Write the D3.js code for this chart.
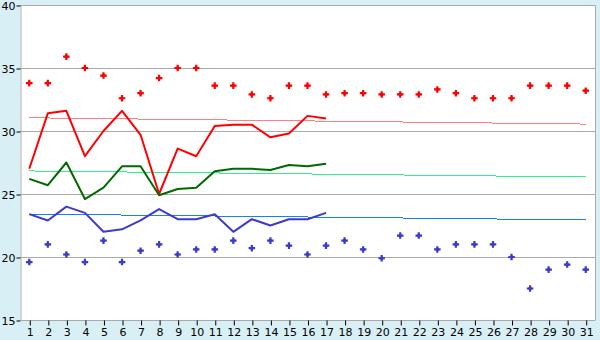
<!DOCTYPE html>
<html>
<head>
<meta charset="utf-8">
<script src="https://cdn.jsdelivr.net/npm/d3@7"></script>
<style>
  html, body { margin: 0; padding: 0; background: #d9eff6; }
  svg { display: block; }
  text { font-family: "DejaVu Sans", Verdana, sans-serif; font-size: 11px; fill: #000; }
</style>
</head>
<body>
<div id="chart"></div>
<script>
const days = d3.range(1, 32);
const yTicks = [15, 20, 25, 30, 35, 40];

// daily series (days 1..17)
const redLine = [27.0, 31.4, 31.6, 28.0, 30.0, 31.6, 29.7, 25.0, 28.6, 28.0, 30.4, 30.5, 30.5, 29.5, 29.8, 31.2, 31.0];
const greenLine = [26.2, 25.7, 27.5, 24.6, 25.5, 27.2, 27.2, 24.9, 25.4, 25.5, 26.8, 27.0, 27.0, 26.9, 27.3, 27.2, 27.4];
const blueLine = [23.4, 22.9, 24.0, 23.5, 22.0, 22.2, 22.9, 23.8, 23.0, 23.0, 23.4, 22.0, 23.0, 22.5, 23.0, 23.0, 23.5];

// point markers (days 1..31)
const redDots = [33.8, 33.8, 35.9, 35.0, 34.4, 32.6, 33.0, 34.2, 35.0, 35.0, 33.6, 33.6, 32.9, 32.6, 33.6, 33.6, 32.9, 33.0, 33.0, 32.9, 32.9, 32.9, 33.3, 33.0, 32.6, 32.6, 32.6, 33.6, 33.6, 33.6, 33.2];
const blueDots = [19.6, 21.0, 20.2, 19.6, 21.3, 19.6, 20.5, 21.0, 20.2, 20.6, 20.6, 21.3, 20.7, 21.3, 20.9, 20.2, 20.9, 21.3, 20.6, 19.9, 21.7, 21.7, 20.6, 21.0, 21.0, 21.0, 20.0, 17.5, 19.0, 19.4, 19.0];

// trend lines: values at day 1 and day 31
const trendDays = [1, 31];
const redTrend = [31.05, 30.55];
const greenTrend = [26.83, 26.35];
const blueTrend = [23.41, 22.94];

const W = 600, H = 340;
const margin = { top: 5, right: 5, bottom: 20, left: 20 };

const svg = d3.select("#chart").append("svg")
  .attr("width", W)
  .attr("height", H);

const x = d3.scalePoint()
  .domain(days)
  .range([margin.left, W - margin.right])
  .padding(0.5);

const y = d3.scaleLinear()
  .domain([15, 40])
  .range([H - margin.bottom, margin.top]);

// plot background
svg.append("rect")
  .attr("x", margin.left)
  .attr("y", margin.top)
  .attr("width", W - margin.left - margin.right)
  .attr("height", H - margin.top - margin.bottom)
  .attr("fill", "#fff");

// grid lines
svg.append("g")
  .selectAll("line")
  .data(yTicks.filter(d => d > 15 && d < 40))
  .enter()
  .append("line")
  .attr("x1", margin.left)
  .attr("x2", W - margin.right)
  .attr("y1", d => y(d) + 0.5)
  .attr("y2", d => y(d) + 0.5)
  .attr("stroke", "#aaa");

// frame top / right
svg.append("path")
  .attr("d", `M${margin.left},${margin.top + 0.5}H${W - margin.right + 0.5}V${H - margin.bottom}`)
  .attr("fill", "none")
  .attr("stroke", "#aaa");

// y axis
const yAxis = svg.append("g")
  .attr("transform", `translate(${margin.left + 0.5},0.5)`)
  .call(d3.axisLeft(y).tickValues(yTicks).tickSize(4).tickSizeOuter(0).tickPadding(2));
yAxis.select(".domain").attr("stroke", "#aaa");
yAxis.selectAll(".tick line").attr("stroke", "#000");
yAxis.selectAll(".tick text").attr("font-size", 11).attr("font-family", null).attr("x", -5);

// x axis
const xAxis = svg.append("g")
  .attr("transform", `translate(0.5,${H - margin.bottom + 0.5})`)
  .call(d3.axisBottom(x).tickSize(5).tickSizeOuter(0).tickPadding(4));
xAxis.select(".domain").attr("stroke", "#aaa").attr("d", `M${margin.left},0H${W - margin.right}`);
xAxis.selectAll(".tick line").attr("stroke", "#000");
xAxis.selectAll(".tick text").attr("font-size", 11).attr("font-family", null).attr("dy", "0.6em");

// trend lines
const trendLine = d3.line()
  .x((d, i) => x(trendDays[i]))
  .y(d => y(d));

[[redTrend, "#ff8080"], [greenTrend, "#2ef08e"], [blueTrend, "#1a80f0"]].forEach(([vals, color]) => {
  svg.append("path")
    .datum(vals)
    .attr("fill", "none")
    .attr("stroke", color)
    .attr("stroke-width", 1)
    .attr("shape-rendering", "crispEdges")
    .attr("d", trendLine);
});

// daily lines
const line = d3.line()
  .x((d, i) => x(days[i]))
  .y(d => y(d));

[[redLine, "#ff0000"], [greenLine, "#006a00"], [blueLine, "#3b3bcc"]].forEach(([vals, color]) => {
  svg.append("path")
    .datum(vals)
    .attr("fill", "none")
    .attr("stroke", color)
    .attr("stroke-width", 2)
    .attr("stroke-linejoin", "round")
    .attr("d", line);
});

// markers: cross + small diamond, a filled blob
const cross = d3.symbol().type(d3.symbolCross).size(24);
const diamond = d3.symbol().type(d3.symbolSquare).size(12);

[[redDots, "#ff0000"], [blueDots, "#3b3bcc"]].forEach(([vals, color]) => {
  const g = svg.append("g")
    .selectAll("g")
    .data(vals)
    .enter()
    .append("g")
    .attr("transform", (d, i) => `translate(${x(days[i])},${y(d)})`)
    .attr("fill", color);
  g.append("path").attr("d", cross);
  g.append("path").attr("d", diamond).attr("transform", "rotate(45)");
});
</script>
</body>
</html>
